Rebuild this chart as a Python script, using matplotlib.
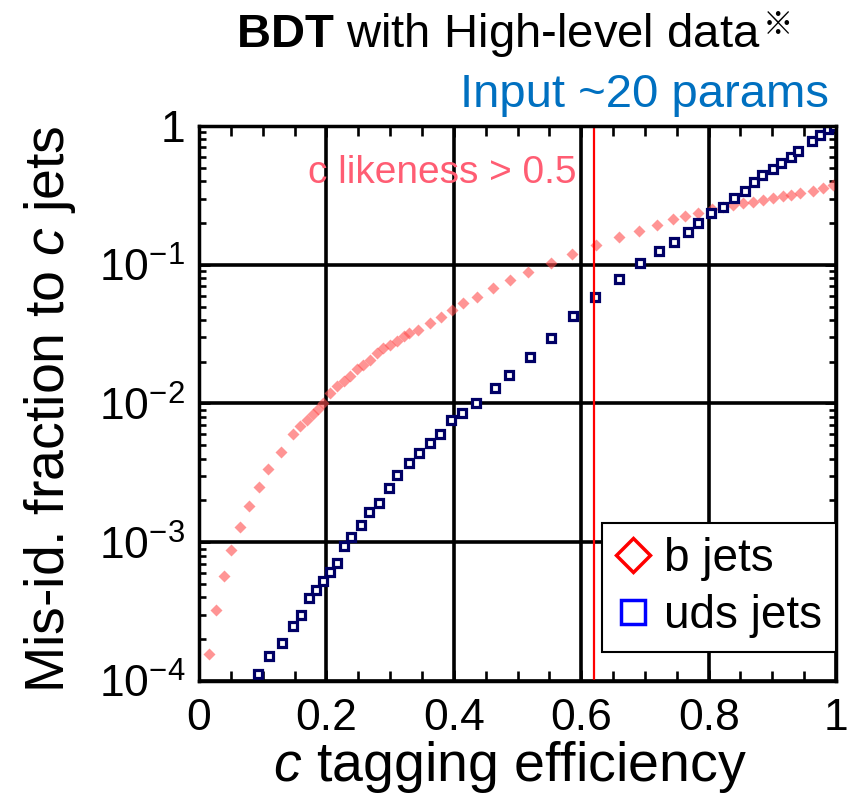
import math
import matplotlib
matplotlib.use("Agg")
import matplotlib.pyplot as plt
from matplotlib.lines import Line2D
from matplotlib.ticker import FixedLocator, LogLocator, FuncFormatter

plt.rcParams['font.family'] = ['Liberation Sans', 'DejaVu Sans']
plt.rcParams['mathtext.fontset'] = 'custom'
plt.rcParams['mathtext.rm'] = 'Liberation Sans'
plt.rcParams['mathtext.it'] = 'Liberation Sans:italic'
plt.rcParams['mathtext.bf'] = 'Liberation Sans:bold'

# b jets mis-id vs c tagging efficiency
eff_b = [0.016, 0.027, 0.039, 0.050, 0.064, 0.078, 0.094, 0.109, 0.129, 0.148,
         0.159, 0.169, 0.179, 0.187, 0.195, 0.206, 0.216, 0.227, 0.237, 0.248,
         0.258, 0.268, 0.279, 0.289, 0.300, 0.310, 0.321, 0.329, 0.344, 0.363,
         0.380, 0.397, 0.414, 0.436, 0.461, 0.488, 0.516, 0.552, 0.585, 0.623,
         0.660, 0.691, 0.719, 0.744, 0.763, 0.784, 0.805, 0.823, 0.838, 0.854,
         0.870, 0.885, 0.901, 0.917, 0.930, 0.943, 0.964, 0.980, 0.995]
mis_b = [1.56e-4, 3.24e-4, 5.73e-4, 8.81e-4, 1.29e-3, 1.82e-3, 2.50e-3, 3.39e-3, 4.46e-3, 5.98e-3,
         6.87e-3, 7.59e-3, 8.43e-3, 9.16e-3, 1.00e-2, 1.19e-2, 1.33e-2, 1.45e-2, 1.57e-2, 1.76e-2,
         1.91e-2, 2.07e-2, 2.32e-2, 2.52e-2, 2.65e-2, 2.81e-2, 3.05e-2, 3.23e-2, 3.40e-2, 3.83e-2,
         4.23e-2, 4.74e-2, 5.33e-2, 5.89e-2, 6.84e-2, 7.80e-2, 8.91e-2, 0.103, 0.119, 0.138,
         0.158, 0.176, 0.192, 0.213, 0.225, 0.238, 0.252, 0.262, 0.270, 0.278,
         0.285, 0.294, 0.302, 0.313, 0.319, 0.328, 0.340, 0.356, 0.377]

# uds jets
eff_uds = [0.093, 0.110, 0.131, 0.148, 0.160, 0.172, 0.183, 0.194, 0.205, 0.216,
           0.227, 0.238, 0.255, 0.267, 0.283, 0.298, 0.311, 0.329, 0.346, 0.363,
           0.379, 0.396, 0.413, 0.435, 0.464, 0.486, 0.520, 0.553, 0.587, 0.621,
           0.659, 0.693, 0.722, 0.745, 0.767, 0.784, 0.804, 0.823, 0.840, 0.857,
           0.871, 0.884, 0.901, 0.913, 0.929, 0.941, 0.963, 0.975, 0.987, 0.997]
mis_uds = [1.12e-4, 1.52e-4, 1.87e-4, 2.50e-4, 2.99e-4, 3.95e-4, 4.52e-4, 5.27e-4, 6.15e-4, 7.14e-4,
           9.35e-4, 1.09e-3, 1.34e-3, 1.64e-3, 1.92e-3, 2.48e-3, 3.07e-3, 3.74e-3, 4.42e-3, 5.15e-3,
           5.98e-3, 7.55e-3, 8.55e-3, 1.00e-2, 1.30e-2, 1.60e-2, 2.18e-2, 2.97e-2, 4.28e-2, 5.82e-2,
           7.93e-2, 0.103, 0.126, 0.147, 0.172, 0.201, 0.236, 0.260, 0.305, 0.340,
           0.394, 0.440, 0.489, 0.540, 0.598, 0.664, 0.776, 0.861, 0.946, 1.0]

cut_eff = 0.62  # c likeness > 0.5 working point
xticks = [0, 0.2, 0.4, 0.6, 0.8, 1]
xticklabels = ['0', '0.2', '0.4', '0.6', '0.8', '1']

fig = plt.figure(figsize=(8.48, 7.96), dpi=100)
ax = fig.add_axes([0.2347, 0.1445, 0.7512, 0.6972])
ax.set_axisbelow(True)

ax.plot(eff_b, mis_b, ls='none', marker='D', ms=6, color='#ff4d4d', mec='none', alpha=0.6)
ax.plot(eff_uds, mis_uds, ls='none', marker='s', ms=6.2, mfc='white', mec='#000066', mew=2.3)
ax.axvline(cut_eff, color='red', lw=1.6)

ax.set_yscale('log')
ax.set_xlim(0, 1)
ax.set_ylim(1e-4, 1)

ax.xaxis.set_major_locator(FixedLocator(xticks))
ax.set_xticklabels(xticklabels)
ax.xaxis.set_minor_locator(FixedLocator([i * 0.05 for i in range(21)]))
ax.yaxis.set_major_locator(LogLocator(base=10, numticks=10))
ax.yaxis.set_minor_locator(LogLocator(base=10, subs=range(2, 10), numticks=20))


def yfmt(v, pos):
    e = int(round(math.log10(v)))
    return '1' if e == 0 else r'$\mathregular{10^{%d}}$' % e


ax.yaxis.set_major_formatter(FuncFormatter(yfmt))

ax.grid(which='major', color='black', lw=2.6)
for s in ax.spines.values():
    s.set_linewidth(2.5)
ax.tick_params(which='both', direction='in', top=True, right=True, width=1.9, colors='black')
ax.tick_params(which='major', length=8, labelsize=32)
ax.tick_params(axis='x', which='major', pad=12)
ax.tick_params(axis='y', which='major', pad=10)
ax.tick_params(axis='x', which='minor', length=7)
ax.tick_params(axis='y', which='minor', length=5)

ax.set_xlabel(r'$\mathit{c}$ tagging efficiency', fontsize=40)
ax.xaxis.set_label_coords(0.488, -0.105)
ax.set_ylabel(r'Mis-id. fraction to $\mathit{c}$ jets', fontsize=40)
ax.yaxis.set_label_coords(-0.19, 0.49)

ax.text(0.171, 0.897, 'c likeness > 0.5', transform=ax.transAxes, fontsize=28,
        color='#ff5d73', va='baseline')

# legend uses its own marker styles
handles = [Line2D([], [], ls='none', marker='D', ms=17, mfc='none', mec='red', mew=2.5),
           Line2D([], [], ls='none', marker='s', ms=17, mfc='none', mec='blue', mew=2.5)]
leg = ax.legend(handles, ['b jets', 'uds jets'], loc='upper right', bbox_to_anchor=(1.0, 0.285),
                fontsize=33, frameon=True, fancybox=False, framealpha=1, edgecolor='black',
                borderaxespad=0, borderpad=0.3, handletextpad=0.3, labelspacing=0.3,
                handlelength=0.75)
leg.get_frame().set_linewidth(1.5)

fig.text(236 / 848, 1 - 47 / 796, r'$\mathbf{BDT}$ with High-level data', fontsize=34,
         va='baseline', ha='left')
fig.text(763 / 848, 1 - 33 / 796, '※', fontsize=22, va='baseline', ha='left',
         family=['Noto Sans CJK JP', 'DejaVu Sans'])
fig.text(829 / 848, 1 - 107 / 796, 'Input ~20 params', fontsize=34, color='#0070c0',
         va='baseline', ha='right')

fig.savefig('out.png', dpi=100)
